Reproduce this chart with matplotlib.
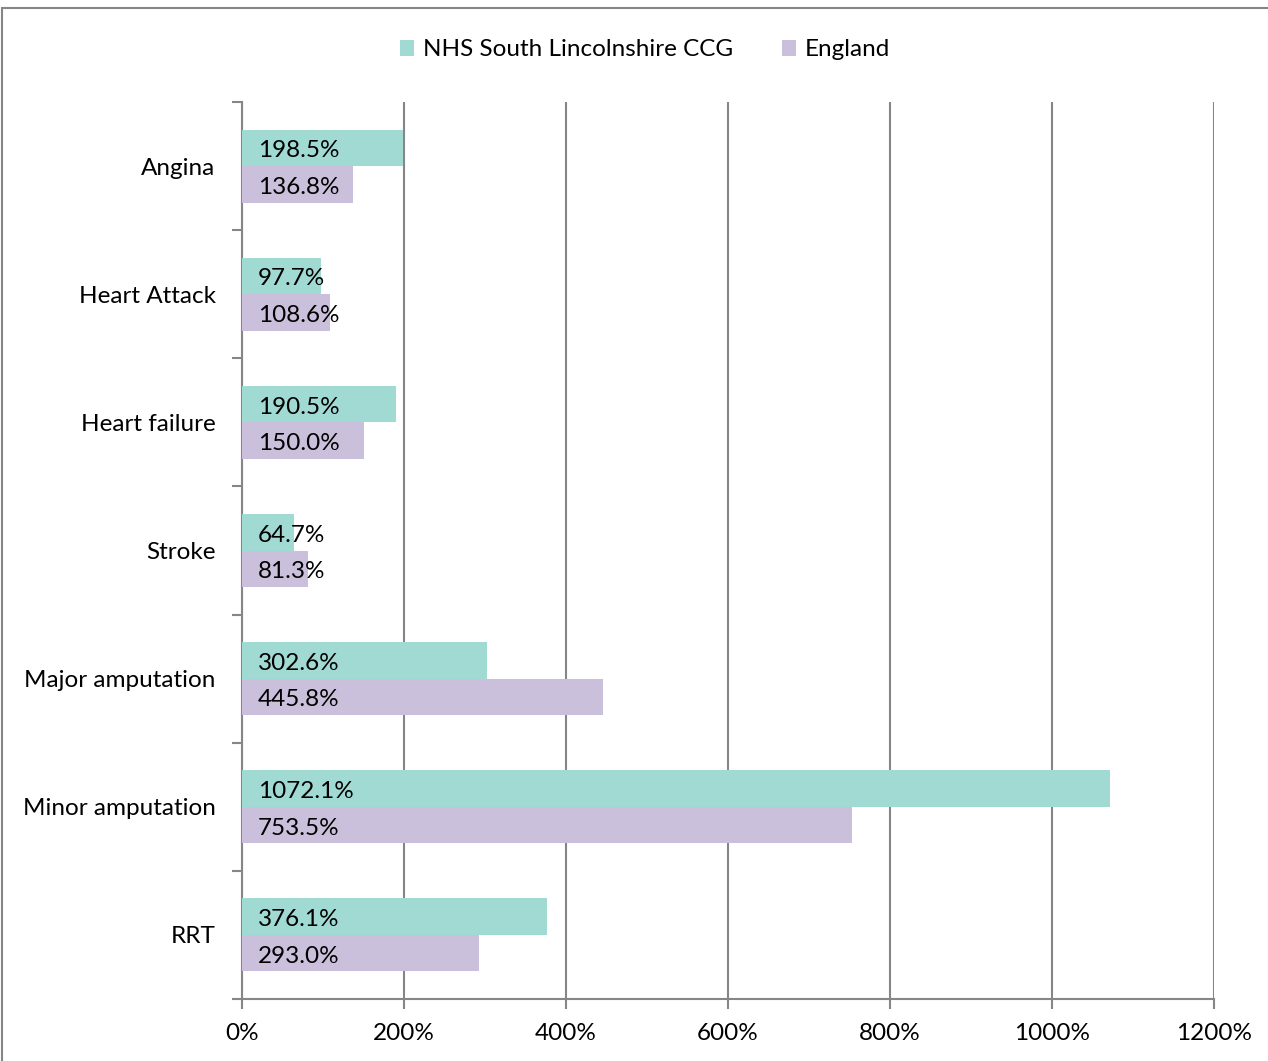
import matplotlib
matplotlib.use('Agg')
import matplotlib.pyplot as plt
from matplotlib.patches import Rectangle
import numpy as np

plt.rcParams['font.family'] = ['Lato', 'DejaVu Sans']

categories = ['Angina', 'Heart Attack', 'Heart failure', 'Stroke',
              'Major amputation', 'Minor amputation', 'RRT']
ccg = [198.5, 97.7, 190.5, 64.7, 302.6, 1072.1, 376.1]
england = [136.8, 108.6, 150.0, 81.3, 445.8, 753.5, 293.0]
series_names = ['NHS South Lincolnshire CCG', 'England']
xticks = [0, 200, 400, 600, 800, 1000, 1200]

green = '#a0dad3'
purple = '#cbc0dc'
grey = '#868686'
fs = 17.5

fig = plt.figure(figsize=(12.68, 10.61), dpi=100)
ax = fig.add_axes([242 / 1268, 1 - 999 / 1061, (1214 - 242) / 1268, (999 - 102) / 1061])

n = len(categories)
pos = np.arange(n)[::-1]  # Angina on top
h = 0.285
b1 = ax.barh(pos + h / 2, ccg, height=h, color=green, label=series_names[0], zorder=3)
b2 = ax.barh(pos - h / 2, england, height=h, color=purple, label=series_names[1], zorder=3)

for bars, vals in ((b1, ccg), (b2, england)):
    for rect, v in zip(bars, vals):
        ax.annotate('%.1f%%' % v, xy=(0, rect.get_y() + rect.get_height() / 2),
                    xytext=(16, -3), textcoords='offset pixels',
                    va='center', ha='left', fontsize=fs, zorder=4)

ax.set_xlim(0, 1200)
ax.set_ylim(-0.5, n - 0.5)
ax.set_xticks(xticks)
ax.set_xticklabels(['%d%%' % t for t in xticks], fontsize=fs)
ax.set_yticks(pos)
ax.set_yticklabels(categories, fontsize=fs)
ax.set_yticks(np.arange(n + 1) - 0.5, minor=True)
ax.tick_params(axis='y', which='major', length=0, pad=19)
ax.tick_params(axis='y', which='minor', length=7, width=1.5, color=grey)
ax.tick_params(axis='x', length=7, width=1.5, color=grey, pad=10.5)

ax.grid(axis='x', color=grey, linewidth=1.5, zorder=0)
for s in ['top', 'right']:
    ax.spines[s].set_visible(False)
for s in ['left', 'bottom']:
    ax.spines[s].set_color(grey)
    ax.spines[s].set_linewidth(1.5)

fig.legend(loc='center', bbox_to_anchor=(645 / 1268, 1 - 50 / 1061), ncol=2,
           frameon=False, fontsize=fs, handlelength=0.6, handleheight=0.6,
           handletextpad=0.35, columnspacing=2.0)

fig.patches.append(Rectangle((2 / 1268, -0.05), 1.1, 1 - 8 / 1061 + 0.05,
                             transform=fig.transFigure, fill=False,
                             edgecolor=grey, linewidth=1.5))

fig.savefig('out.png', dpi=100)
